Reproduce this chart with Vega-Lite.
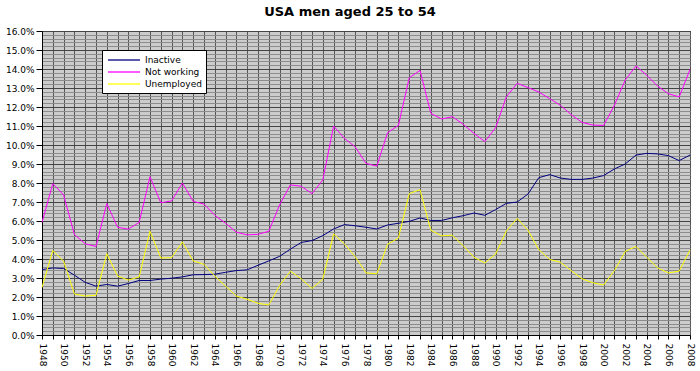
{
  "$schema": "https://vega.github.io/schema/vega-lite/v6.json",
  "autosize": "none",
  "width": 648,
  "height": 304,
  "padding": {"left": 42, "top": 31, "right": 10, "bottom": 36},
  "background": "white",
  "title": {"text": "USA men aged 25 to 54", "font": "DejaVu Sans", "fontSize": 13, "fontWeight": "bold", "color": "#000000", "anchor": "middle", "offset": 8, "dx": -16},
  "config": {
    "view": {"fill": "#CCCCCC", "stroke": "#000000", "strokeWidth": 1},
    "axis": {"labelFont": "DejaVu Sans", "labelFontSize": 9, "labelColor": "#000000", "domainColor": "#000000", "tickColor": "#000000", "gridOpacity": 1, "labelOverlap": false}
  },
  "data": {"values": [
    {"year": 1948, "Inactive": 3.44, "Not working": 5.93, "Unemployed": 2.5},
    {"year": 1949, "Inactive": 3.53, "Not working": 7.97, "Unemployed": 4.45},
    {"year": 1950, "Inactive": 3.5, "Not working": 7.37, "Unemployed": 3.88},
    {"year": 1951, "Inactive": 3.15, "Not working": 5.29, "Unemployed": 2.16},
    {"year": 1952, "Inactive": 2.77, "Not working": 4.8, "Unemployed": 2.05},
    {"year": 1953, "Inactive": 2.57, "Not working": 4.66, "Unemployed": 2.09},
    {"year": 1954, "Inactive": 2.66, "Not working": 6.92, "Unemployed": 4.28},
    {"year": 1955, "Inactive": 2.57, "Not working": 5.67, "Unemployed": 3.1},
    {"year": 1956, "Inactive": 2.71, "Not working": 5.57, "Unemployed": 2.89},
    {"year": 1957, "Inactive": 2.87, "Not working": 5.93, "Unemployed": 3.06},
    {"year": 1958, "Inactive": 2.87, "Not working": 8.33, "Unemployed": 5.46},
    {"year": 1959, "Inactive": 2.94, "Not working": 6.96, "Unemployed": 4.05},
    {"year": 1960, "Inactive": 2.99, "Not working": 7.06, "Unemployed": 4.07},
    {"year": 1961, "Inactive": 3.06, "Not working": 8.0, "Unemployed": 4.9},
    {"year": 1962, "Inactive": 3.17, "Not working": 7.03, "Unemployed": 3.9},
    {"year": 1963, "Inactive": 3.18, "Not working": 6.89, "Unemployed": 3.72},
    {"year": 1964, "Inactive": 3.2, "Not working": 6.3, "Unemployed": 3.1},
    {"year": 1965, "Inactive": 3.3, "Not working": 5.88, "Unemployed": 2.57},
    {"year": 1966, "Inactive": 3.39, "Not working": 5.41, "Unemployed": 2.05},
    {"year": 1967, "Inactive": 3.43, "Not working": 5.27, "Unemployed": 1.88},
    {"year": 1968, "Inactive": 3.67, "Not working": 5.3, "Unemployed": 1.67},
    {"year": 1969, "Inactive": 3.9, "Not working": 5.46, "Unemployed": 1.58},
    {"year": 1970, "Inactive": 4.14, "Not working": 6.85, "Unemployed": 2.61},
    {"year": 1971, "Inactive": 4.52, "Not working": 7.9, "Unemployed": 3.36},
    {"year": 1972, "Inactive": 4.87, "Not working": 7.83, "Unemployed": 2.96},
    {"year": 1973, "Inactive": 4.97, "Not working": 7.44, "Unemployed": 2.45},
    {"year": 1974, "Inactive": 5.23, "Not working": 8.16, "Unemployed": 2.94},
    {"year": 1975, "Inactive": 5.58, "Not working": 11.0, "Unemployed": 5.32},
    {"year": 1976, "Inactive": 5.81, "Not working": 10.35, "Unemployed": 4.8},
    {"year": 1977, "Inactive": 5.75, "Not working": 9.9, "Unemployed": 4.12},
    {"year": 1978, "Inactive": 5.67, "Not working": 9.03, "Unemployed": 3.27},
    {"year": 1979, "Inactive": 5.58, "Not working": 8.89, "Unemployed": 3.22},
    {"year": 1980, "Inactive": 5.79, "Not working": 10.65, "Unemployed": 4.78},
    {"year": 1981, "Inactive": 5.88, "Not working": 11.03, "Unemployed": 5.1},
    {"year": 1982, "Inactive": 5.98, "Not working": 13.53, "Unemployed": 7.44},
    {"year": 1983, "Inactive": 6.16, "Not working": 13.93, "Unemployed": 7.65},
    {"year": 1984, "Inactive": 6.03, "Not working": 11.67, "Unemployed": 5.51},
    {"year": 1985, "Inactive": 6.03, "Not working": 11.37, "Unemployed": 5.22},
    {"year": 1986, "Inactive": 6.17, "Not working": 11.49, "Unemployed": 5.25},
    {"year": 1987, "Inactive": 6.28, "Not working": 11.09, "Unemployed": 4.7},
    {"year": 1988, "Inactive": 6.42, "Not working": 10.61, "Unemployed": 4.09},
    {"year": 1989, "Inactive": 6.3, "Not working": 10.18, "Unemployed": 3.79},
    {"year": 1990, "Inactive": 6.6, "Not working": 10.91, "Unemployed": 4.26},
    {"year": 1991, "Inactive": 6.93, "Not working": 12.54, "Unemployed": 5.48},
    {"year": 1992, "Inactive": 7.0, "Not working": 13.25, "Unemployed": 6.14},
    {"year": 1993, "Inactive": 7.42, "Not working": 13.02, "Unemployed": 5.51},
    {"year": 1994, "Inactive": 8.28, "Not working": 12.79, "Unemployed": 4.49},
    {"year": 1995, "Inactive": 8.44, "Not working": 12.44, "Unemployed": 3.98},
    {"year": 1996, "Inactive": 8.26, "Not working": 12.09, "Unemployed": 3.83},
    {"year": 1997, "Inactive": 8.19, "Not working": 11.6, "Unemployed": 3.39},
    {"year": 1998, "Inactive": 8.19, "Not working": 11.19, "Unemployed": 2.96},
    {"year": 1999, "Inactive": 8.26, "Not working": 11.05, "Unemployed": 2.75},
    {"year": 2000, "Inactive": 8.39, "Not working": 11.03, "Unemployed": 2.63},
    {"year": 2001, "Inactive": 8.74, "Not working": 12.09, "Unemployed": 3.39},
    {"year": 2002, "Inactive": 9.0, "Not working": 13.42, "Unemployed": 4.4},
    {"year": 2003, "Inactive": 9.47, "Not working": 14.16, "Unemployed": 4.66},
    {"year": 2004, "Inactive": 9.56, "Not working": 13.67, "Unemployed": 4.09},
    {"year": 2005, "Inactive": 9.53, "Not working": 13.1, "Unemployed": 3.53},
    {"year": 2006, "Inactive": 9.44, "Not working": 12.7, "Unemployed": 3.27},
    {"year": 2007, "Inactive": 9.18, "Not working": 12.53, "Unemployed": 3.36},
    {"year": 2008, "Inactive": 9.47, "Not working": 13.98, "Unemployed": 4.47}
  ]},
  "transform": [{"fold": ["Inactive", "Not working", "Unemployed"], "as": ["series", "value"]}],
  "resolve": {"axis": {"y": "independent"}},
  "layer": [
    {
      "mark": {"type": "line", "strokeOpacity": 0},
      "encoding": {
        "x": {"field": "year", "type": "quantitative", "scale": {"domain": [1948, 2008], "nice": false, "zero": false},
          "axis": {"values": [1948,1949,1950,1951,1952,1953,1954,1955,1956,1957,1958,1959,1960,1961,1962,1963,1964,1965,1966,1967,1968,1969,1970,1971,1972,1973,1974,1975,1976,1977,1978,1979,1980,1981,1982,1983,1984,1985,1986,1987,1988,1989,1990,1991,1992,1993,1994,1995,1996,1997,1998,1999,2000,2001,2002,2003,2004,2005,2006,2007,2008],
            "labelExpr": "datum.value % 2 == 0 ? format(datum.value, 'd') : ''", "labelAngle": 90, "labelAlign": "left", "labelBaseline": "middle", "labelOverlap": false, "labelBound": false, "labelFlush": false, "labelPadding": 4, "tickSize": 4, "grid": true, "gridColor": "#555555", "gridWidth": 1, "title": null}},
        "y": {"field": "value", "type": "quantitative", "scale": {"domain": [0, 16], "nice": false, "zero": true},
          "axis": {"orient": "left", "values": [0.2,0.4,0.6,0.8,1.2,1.4,1.6,1.8,2.2,2.4,2.6,2.8,3.2,3.4,3.6,3.8,4.2,4.4,4.6,4.8,5.2,5.4,5.6,5.8,6.2,6.4,6.6,6.8,7.2,7.4,7.6,7.8,8.2,8.4,8.6,8.8,9.2,9.4,9.6,9.8,10.2,10.4,10.6,10.8,11.2,11.4,11.6,11.8,12.2,12.4,12.6,12.8,13.2,13.4,13.6,13.8,14.2,14.4,14.6,14.8,15.2,15.4,15.6,15.8],
            "labels": false, "ticks": false, "domain": false, "grid": true, "gridColor": "#8C8C8C", "gridWidth": 1, "title": null}},
        "detail": {"field": "series"}
      }
    },
    {
      "mark": {"type": "line", "strokeWidth": 1},
      "encoding": {
        "x": {"field": "year", "type": "quantitative",
          "axis": {"values": [1948,1949,1950,1951,1952,1953,1954,1955,1956,1957,1958,1959,1960,1961,1962,1963,1964,1965,1966,1967,1968,1969,1970,1971,1972,1973,1974,1975,1976,1977,1978,1979,1980,1981,1982,1983,1984,1985,1986,1987,1988,1989,1990,1991,1992,1993,1994,1995,1996,1997,1998,1999,2000,2001,2002,2003,2004,2005,2006,2007,2008],
            "labelExpr": "datum.value % 2 == 0 ? format(datum.value, 'd') : ''", "labelAngle": 90, "labelAlign": "left", "labelBaseline": "middle", "labelOverlap": false, "labelBound": false, "labelFlush": false, "labelPadding": 4, "tickSize": 4, "grid": true, "gridColor": "#555555", "gridWidth": 1, "title": null}},
        "y": {"field": "value", "type": "quantitative",
          "axis": {"orient": "left", "values": [0,1,2,3,4,5,6,7,8,9,10,11,12,13,14,15,16], "labelExpr": "format(datum.value, '.1f') + '%'", "tickSize": 6, "labelPadding": 2, "grid": true, "gridColor": "#444444", "gridWidth": 1, "domainColor": "#000000", "title": null}},
        "color": {"field": "series", "type": "nominal",
          "scale": {"domain": ["Inactive", "Not working", "Unemployed"], "range": ["#000080", "#FF00FF", "#FFFF00"]},
          "legend": {"orient": "none", "legendX": 60, "legendY": 19, "title": null, "fillColor": "#FFFFFF", "strokeColor": "#000000", "padding": 4, "symbolType": "M-3.2,0L3.2,0", "symbolSize": 100, "symbolOffset": 12, "symbolStrokeWidth": 1.3, "labelFont": "DejaVu Sans", "labelFontSize": 9, "labelColor": "#000000", "labelOffset": 15, "rowPadding": 1}}
      }
    }
  ]
}
